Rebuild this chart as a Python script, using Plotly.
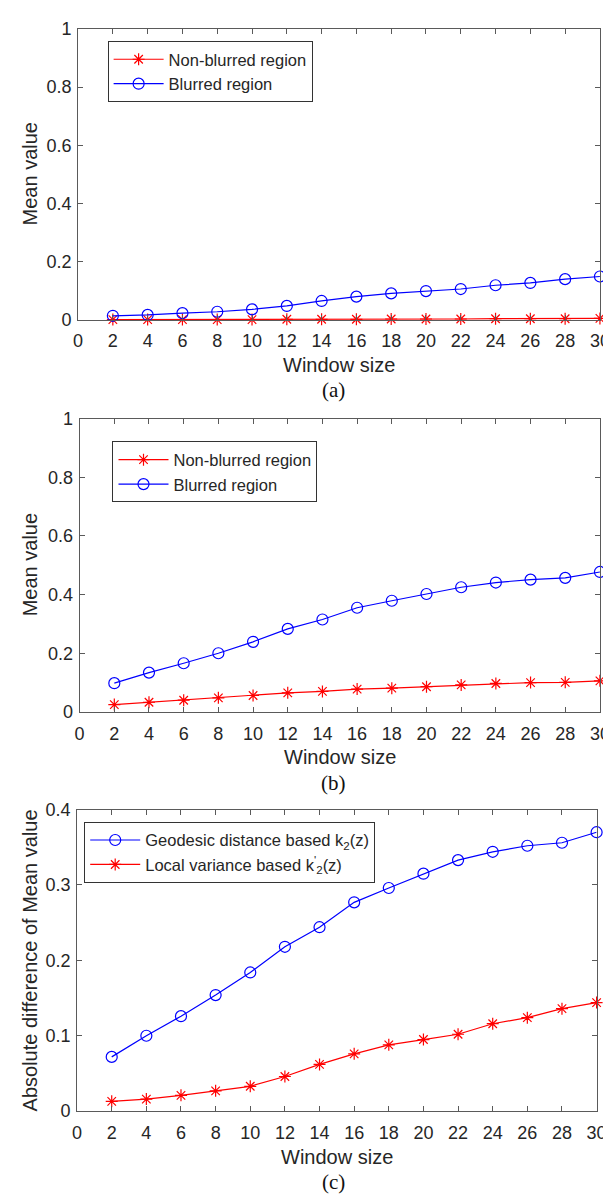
import plotly.graph_objects as go

W, H = 611, 1200

window = [2, 4, 6, 8, 10, 12, 14, 16, 18, 20, 22, 24, 26, 28, 30]

# Panel (a)
a_nonblurred = [0.001, 0.001, 0.001, 0.001, 0.001, 0.002, 0.002, 0.002, 0.003, 0.003, 0.003, 0.004, 0.004, 0.004, 0.005]
a_blurred = [0.014, 0.017, 0.023, 0.028, 0.036, 0.048, 0.065, 0.080, 0.091, 0.099, 0.106, 0.119, 0.127, 0.140, 0.149]

# Panel (b)
b_nonblurred = [0.025, 0.033, 0.040, 0.048, 0.056, 0.065, 0.070, 0.078, 0.081, 0.086, 0.092, 0.097, 0.100, 0.101, 0.106]
b_blurred = [0.098, 0.134, 0.166, 0.200, 0.239, 0.283, 0.315, 0.355, 0.379, 0.402, 0.425, 0.441, 0.451, 0.457, 0.477]

# Panel (c)
c_geodesic = [0.072, 0.100, 0.126, 0.154, 0.184, 0.218, 0.244, 0.277, 0.296, 0.315, 0.333, 0.344, 0.352, 0.356, 0.370]
c_localvar = [0.013, 0.016, 0.021, 0.027, 0.033, 0.046, 0.062, 0.076, 0.088, 0.095, 0.102, 0.116, 0.124, 0.136, 0.144]

x_ticks = list(range(0, 31, 2))
y_ticks_ab = [0, 0.2, 0.4, 0.6, 0.8, 1]
y_ticktext_ab = ["0", "0.2", "0.4", "0.6", "0.8", "1"]
y_ticks_c = [0, 0.1, 0.2, 0.3, 0.4]
y_ticktext_c = ["0", "0.1", "0.2", "0.3", "0.4"]

RED = "#FF0000"
BLUE = "#0000FF"
SANS = "Liberation Sans, Arial, sans-serif"
SERIF = "Liberation Serif, Times New Roman, serif"
AXC = "#5a5a5a"
TXT = "#262626"

def px_x(p):
    return p / W

def px_y(p):
    return 1 - p / H

# panel geometry in pixels: (left, right, top, bottom)
panels = [
    (66.7, 601.7, 11.0, 307.0),
    (68.3, 601.7, 407.3, 705.7),
    (65.7, 598.3, 805.0, 1111.7),
]

fig = go.Figure()

def red_trace(y, name, xa, ya, legend):
    return go.Scatter(
        x=window, y=y, name=name, mode="lines+markers",
        line=dict(color=RED, width=1.2),
        marker=dict(symbol="asterisk-open", size=10, line=dict(color=RED, width=1.2), color=RED),
        xaxis=xa, yaxis=ya, legend=legend, cliponaxis=False,
    )

def blue_trace(y, name, xa, ya, legend):
    return go.Scatter(
        x=window, y=y, name=name, mode="lines+markers",
        line=dict(color=BLUE, width=1.2),
        marker=dict(symbol="circle-open", size=11, line=dict(color=BLUE, width=1.2), color=BLUE),
        xaxis=xa, yaxis=ya, legend=legend, cliponaxis=False,
    )

fig.add_trace(red_trace(a_nonblurred, "Non-blurred region", "x", "y", "legend"))
fig.add_trace(blue_trace(a_blurred, "Blurred region", "x", "y", "legend"))
fig.add_trace(red_trace(b_nonblurred, "Non-blurred region", "x2", "y2", "legend2"))
fig.add_trace(blue_trace(b_blurred, "Blurred region", "x2", "y2", "legend2"))
fig.add_trace(blue_trace(c_geodesic, "Geodesic distance based k<sub>2</sub>(z)", "x3", "y3", "legend3"))
fig.add_trace(red_trace(c_localvar, "Local variance based k<sup>'</sup><sub>2</sub>(z)", "x3", "y3", "legend3"))

def xaxis_cfg(i, anchor):
    l, r, t, b = panels[i]
    return dict(
        domain=[px_x(l), px_x(r)], anchor=anchor, range=[0, 30],
        tickmode="array", tickvals=x_ticks, ticktext=[str(v) for v in x_ticks],
        ticks="inside", ticklen=5, tickcolor=AXC, tickwidth=1,
        showline=True, linecolor=AXC, linewidth=1, mirror="ticks",
        showgrid=False, zeroline=False,
        tickfont=dict(family=SANS, size=18, color=TXT),
        ticklabelstandoff=5,
    )

def yaxis_cfg(i, anchor, rng, tv, tt):
    l, r, t, b = panels[i]
    return dict(
        domain=[px_y(b), px_y(t)], anchor=anchor, range=rng,
        tickmode="array", tickvals=tv, ticktext=tt,
        ticks="inside", ticklen=5, tickcolor=AXC, tickwidth=1,
        showline=True, linecolor=AXC, linewidth=1, mirror="ticks",
        showgrid=False, zeroline=False,
        tickfont=dict(family=SANS, size=18, color=TXT),
        ticklabelstandoff=2,
    )

legend_common = dict(
    xref="paper", yref="paper", xanchor="left", yanchor="top",
    bgcolor="white", bordercolor="#333333", borderwidth=1,
    font=dict(family=SANS, size=16.5, color=TXT),
    itemwidth=50, tracegroupgap=0,
)

fig.update_layout(
    width=W, height=H,
    margin=dict(l=0, r=0, t=0, b=0),
    paper_bgcolor="white", plot_bgcolor="white",
    xaxis=xaxis_cfg(0, "y"),
    yaxis=yaxis_cfg(0, "x", [0, 1], y_ticks_ab, y_ticktext_ab),
    xaxis2=xaxis_cfg(1, "y2"),
    yaxis2=yaxis_cfg(1, "x2", [0, 1], y_ticks_ab, y_ticktext_ab),
    xaxis3=xaxis_cfg(2, "y3"),
    yaxis3=yaxis_cfg(2, "x3", [0, 0.4], y_ticks_c, y_ticktext_c),
    legend=dict(x=px_x(97), y=px_y(23.4), **legend_common),
    legend2=dict(x=px_x(102), y=px_y(430.6), **legend_common),
    legend3=dict(x=px_x(73), y=px_y(817.4), **legend_common),
    showlegend=True,
)

annotations = []
ylabels = ["Mean value", "Mean value", "Absolute difference of Mean value"]
letters = ["(a)", "(b)", "(c)"]
xlabel_y = [353, 751.7, 1158]
letter_y = [378, 778, 1184]
for i, (l, r, t, b) in enumerate(panels):
    annotations.append(dict(
        text="Window size", xref="paper", yref="paper",
        x=px_x((l + r) / 2), y=px_y(xlabel_y[i]), xanchor="center", yanchor="middle",
        showarrow=False, font=dict(family=SANS, size=20, color=TXT),
    ))
    annotations.append(dict(
        text=letters[i], xref="paper", yref="paper",
        x=px_x(329), y=px_y(letter_y[i]), xanchor="center", yanchor="middle",
        showarrow=False, font=dict(family=SERIF, size=21, color="#111111"),
    ))
    annotations.append(dict(
        text=ylabels[i], xref="paper", yref="paper", textangle=-90,
        x=px_x(17.5), y=px_y((t + b) / 2), xanchor="center", yanchor="middle",
        showarrow=False, font=dict(family=SANS, size=20, color=TXT),
    ))
fig.update_layout(annotations=annotations)

fig.write_html("out.html")
